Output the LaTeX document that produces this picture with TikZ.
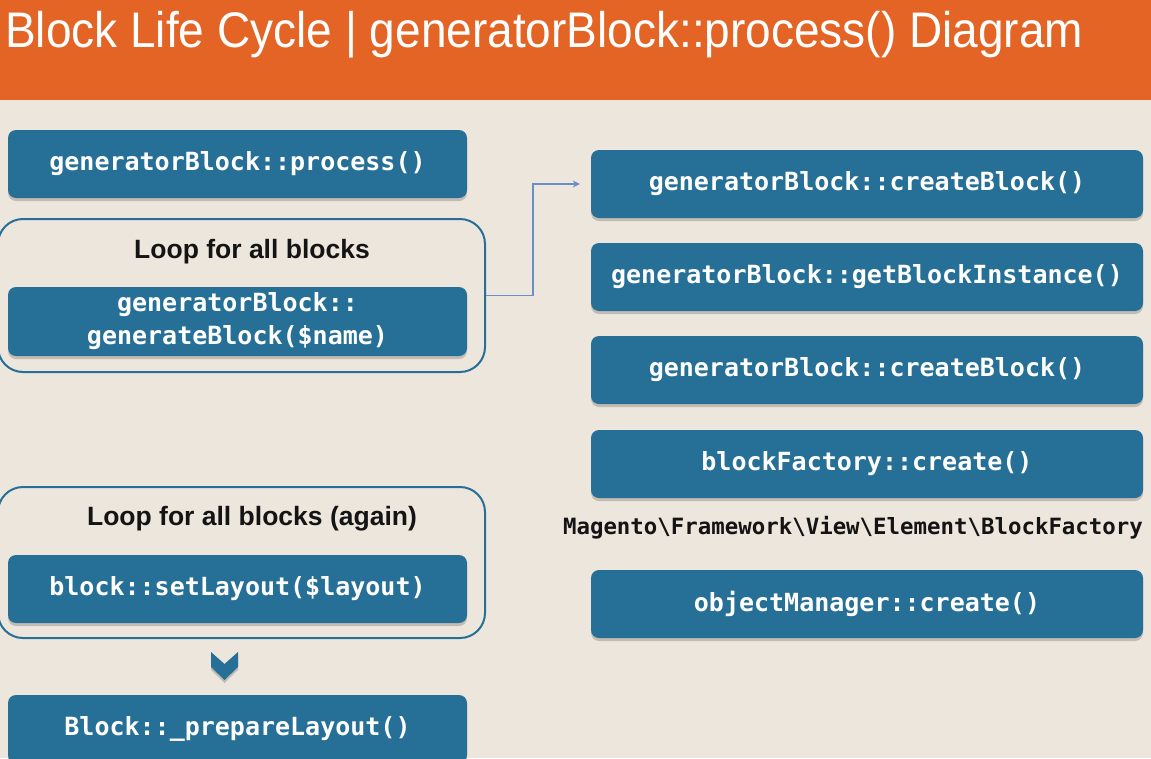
\documentclass[tikz,border=0pt]{standalone}
\usepackage{graphicx}
\usepackage{fontspec}
\setmainfont{Liberation Sans}
\newfontfamily\codefont{DejaVu Sans Mono}
\usetikzlibrary{arrows.meta,shadows}

\definecolor{hdr}{HTML}{E36424}
\definecolor{paper}{HTML}{EDE6DD}
\definecolor{boxblue}{HTML}{266F97}
\definecolor{lnk}{HTML}{6A8FC8}

\tikzset{
  softshadow/.style={drop shadow={shadow xshift=0pt, shadow yshift=-3pt, opacity=0.18, fill=black}},
  callbox/.style={fill=boxblue, rounded corners=8pt, text=white,
    font=\codefont\bfseries\fontsize{25}{33}\selectfont, align=center,
    inner sep=0pt, minimum height=68pt, softshadow},
  leftbox/.style={callbox, minimum width=459pt},
  rightbox/.style={callbox, minimum width=552pt},
  loopframe/.style={draw=boxblue, line width=2pt, rounded corners=25pt,
    minimum width=487pt, inner sep=0pt},
  looplabel/.style={font=\bfseries\fontsize{26.5}{30}\selectfont, text=black!92},
  link/.style={draw=lnk, line width=1.6pt, -{Stealth[length=7pt,width=7pt]}},
}

\begin{document}
\begin{tikzpicture}[x=1pt,y=-1pt]
  % page and header band
  \fill[paper] (0,0) rectangle (1151,758);
  \useasboundingbox (0,0) rectangle (1151,758);
  \fill[hdr] (0,0) rectangle (1151,100);
  \node[anchor=base west, inner sep=0pt, text=white,
        font=\fontsize{50}{56}\selectfont] (title) at (5,47)
    {\scalebox{0.92}[1]{Block Life Cycle | generatorBlock::process() Diagram}};

  % left column
  \node[leftbox] (proc) at (237.5,164) {generatorBlock::process()};

  \node[loopframe, minimum height=153pt] (loop1) at (241.5,295.5) {};
  \node[looplabel] (loop1lbl) at (252,252) {Loop for all blocks};
  \node[leftbox, minimum height=69pt] (gen) at (237.5,321.5)
    {generatorBlock::\\generateBlock(\$name)};

  \node[loopframe, minimum height=151pt] (loop2) at (241.5,562.5) {};
  \node[looplabel] (loop2lbl) at (252,519) {Loop for all blocks (again)};
  \node[leftbox] (setl) at (237.5,589) {block::setLayout(\$layout)};

  % chevron pointing down
  \fill[boxblue, softshadow] (211,652) -- (224.5,664) -- (238,652) -- (238,667)
    -- (224.5,680) -- (211,667) -- cycle;

  \node[leftbox] (prep) at (237.5,729) {Block::\_prepareLayout()};

  % right column
  \node[rightbox] (cb1) at (867,184) {generatorBlock::createBlock()};
  \node[rightbox] (gbi) at (867,277) {generatorBlock::getBlockInstance()};
  \node[rightbox] (cb2) at (867,370) {generatorBlock::createBlock()};
  \node[rightbox] (bf)  at (867,464) {blockFactory::create()};
  \node[font=\codefont\bfseries\fontsize{22.4}{26}\selectfont, text=black!92, inner sep=0pt]
    (magento) at (853,528)
    {Magento\textbackslash Framework\textbackslash View\textbackslash Element\textbackslash BlockFactory};
  \node[rightbox] (om)  at (867,604) {objectManager::create()};

  % connector from the loop to the called methods
  \draw[link, shorten >=11pt] (loop1.east) -- ++(47,0) |- (cb1.west);
\end{tikzpicture}
\end{document}
